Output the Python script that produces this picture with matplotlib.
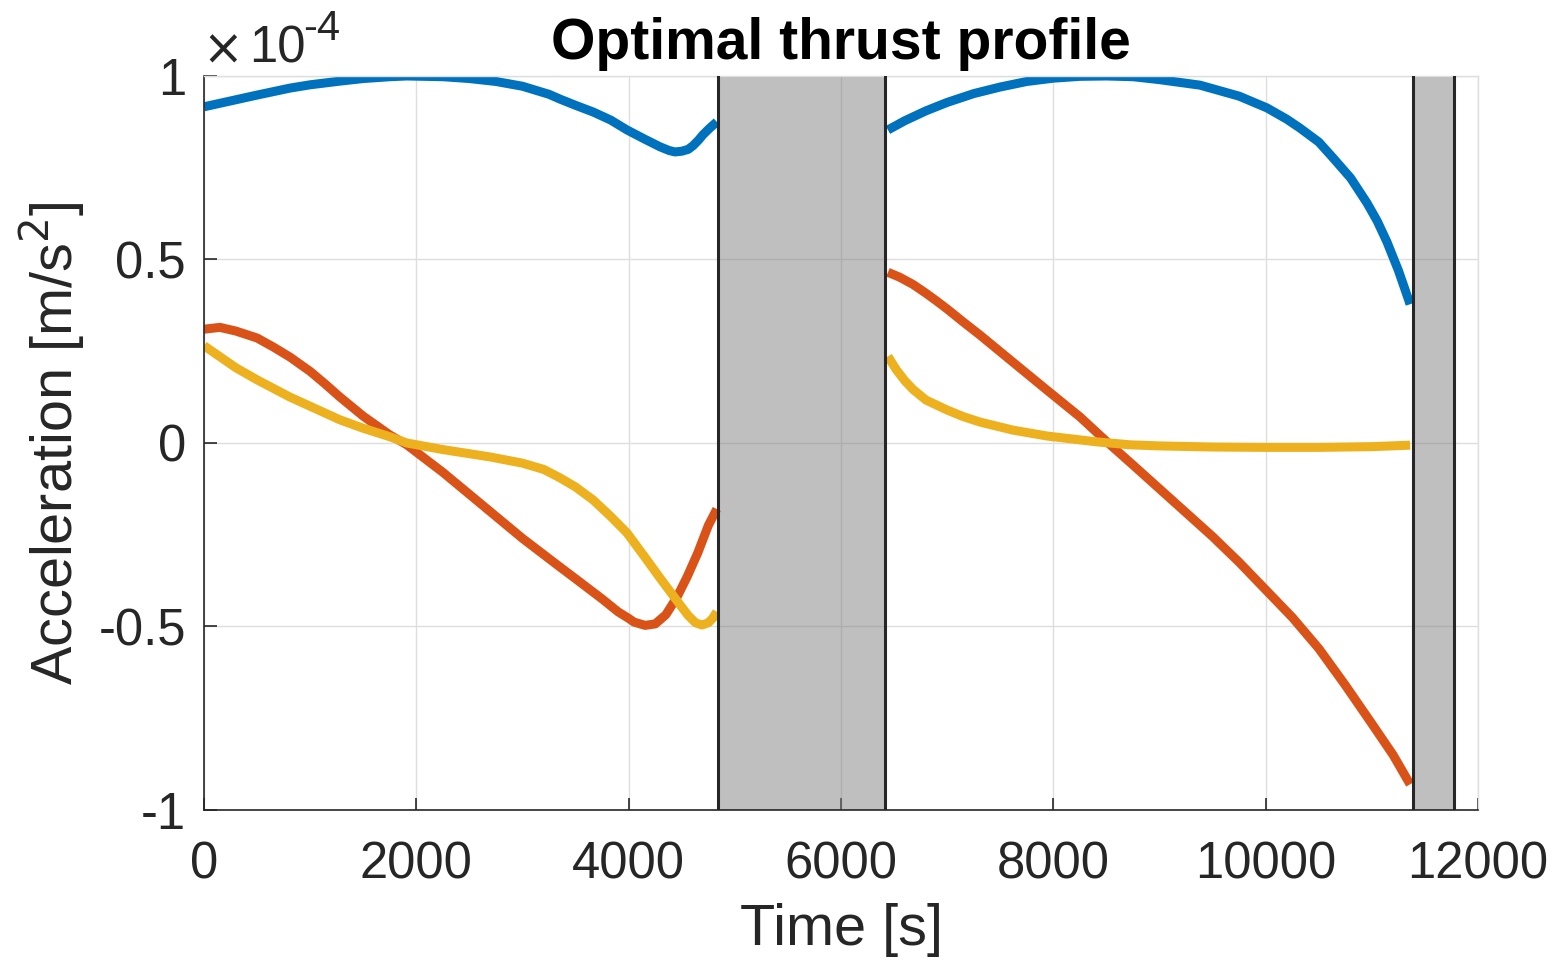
import matplotlib.pyplot as plt
import numpy as np

plt.rcParams['font.family'] = ['Liberation Sans', 'DejaVu Sans']

# acceleration components, in units of 1e-4 m/s^2
# first thrust arc
t_x1 = [0, 250, 500, 810, 1000, 1281, 1500, 1750, 1910, 2250, 2500, 2750, 3000, 3250, 3353,
        3500, 3664, 3830, 3984, 4150, 4295, 4380, 4436, 4500, 4560, 4606, 4660, 4700, 4760, 4830]
a_x1 = [0.916, 0.932, 0.948, 0.967, 0.976, 0.986, 0.993, 0.998, 1.0, 0.998, 0.993, 0.985, 0.972, 0.95, 0.937,
        0.92, 0.902, 0.88, 0.853, 0.828, 0.807, 0.797, 0.793, 0.795, 0.8, 0.81, 0.826, 0.84, 0.857, 0.875]

t_y1 = [0, 150, 300, 500, 650, 810, 1000, 1140, 1281, 1500, 1750, 1910, 2250, 2500, 2750, 3000, 3353, 3500,
        3750, 3900, 4000, 4050, 4154, 4250, 4350, 4455, 4550, 4650, 4750, 4830]
a_y1 = [0.31, 0.315, 0.305, 0.286, 0.262, 0.234, 0.195, 0.161, 0.125, 0.073, 0.022, -0.005, -0.08, -0.14, -0.2,
        -0.26, -0.338, -0.37, -0.425, -0.46, -0.478, -0.488, -0.497, -0.493, -0.468, -0.42, -0.365, -0.3,
        -0.225, -0.18]

t_z1 = [0, 150, 300, 500, 810, 1000, 1281, 1500, 1750, 1910, 2250, 2694, 3000, 3200, 3353, 3500,
        3664, 3830, 3984, 4150, 4295, 4455, 4560, 4630, 4690, 4750, 4790, 4830]
a_z1 = [0.265, 0.235, 0.205, 0.172, 0.125, 0.1, 0.063, 0.04, 0.017, 0.0, -0.018, -0.038, -0.055, -0.072, -0.095, -0.12,
        -0.155, -0.2, -0.245, -0.31, -0.368, -0.43, -0.47, -0.49, -0.496, -0.49, -0.478, -0.46]

# second thrust arc
t_x2 = [6442, 6600, 6800, 7000, 7250, 7500, 7750, 8000, 8250, 8500, 8750, 9000, 9381,
        9750, 10012, 10200, 10323, 10500, 10634, 10800, 10954, 11050, 11142, 11250, 11340, 11360]
a_x2 = [0.853, 0.878, 0.905, 0.928, 0.952, 0.97, 0.985, 0.994, 0.999, 1.0, 0.998, 0.99, 0.975,
        0.945, 0.913, 0.882, 0.858, 0.82, 0.777, 0.722, 0.654, 0.605, 0.548, 0.47, 0.395, 0.378]

t_y2 = [6442, 6550, 6678, 6800, 6900, 7000, 7150, 7309, 7620, 7940, 8251, 8505, 8750, 9000, 9250,
        9500, 9750, 10000, 10250, 10500, 10750, 11000, 11200, 11360]
a_y2 = [0.465, 0.452, 0.432, 0.408, 0.387, 0.365, 0.33, 0.294, 0.22, 0.144, 0.071, 0.003, -0.06, -0.125, -0.19,
        -0.255, -0.325, -0.4, -0.475, -0.56, -0.66, -0.765, -0.85, -0.93]

t_z2 = [6442, 6520, 6600, 6678, 6800, 6998, 7150, 7309, 7620, 7940, 8411, 8722, 9000,
        9500, 10000, 10500, 11000, 11360]
a_z2 = [0.236, 0.2, 0.17, 0.146, 0.117, 0.09, 0.072, 0.057, 0.035, 0.019, 0.003, -0.005, -0.008,
        -0.011, -0.012, -0.012, -0.01, -0.006]

# coast arcs (thruster off)
coast_start = [4841, 11387]
coast_end = [6414, 11774]

xticks = [0, 2000, 4000, 6000, 8000, 10000, 12000]
yticks = [-1, -0.5, 0, 0.5, 1]
ytick_l = ['-1', '-0.5', '0', '0.5', '1']

c_blue = '#0072BD'
c_orange = '#D95319'
c_yellow = '#EDB120'
c_ax = '#262626'

fig = plt.figure(figsize=(15.55, 9.63), dpi=100)
ax = fig.add_axes((0.1312, 0.1589, 0.8193, 0.7622))

for t0, t1 in zip(coast_start, coast_end):
    ax.axvspan(t0, t1, facecolor='0.5', alpha=0.5, edgecolor='none', zorder=1)
    ax.axvline(t0, color=c_ax, lw=2.2, zorder=3)
    ax.axvline(t1, color=c_ax, lw=2.2, zorder=3)

lw = 6.5
for tt, aa, cc in [(t_x1, a_x1, c_blue), (t_y1, a_y1, c_orange), (t_z1, a_z1, c_yellow),
                   (t_x2, a_x2, c_blue), (t_y2, a_y2, c_orange), (t_z2, a_z2, c_yellow)]:
    ax.plot(tt, aa, color=cc, lw=lw, zorder=2, solid_capstyle='butt', solid_joinstyle='round')

ax.set_xlim(0, 12000)
ax.set_ylim(-1, 1)
ax.set_xticks(xticks)
ax.set_xticklabels([str(v) for v in xticks])
ax.set_yticks(yticks)
ax.set_yticklabels(ytick_l)
ax.grid(True, color='#dedede', lw=1)
ax.set_axisbelow(True)

for s in ['top', 'right']:
    ax.spines[s].set_color('#dedede')
    ax.spines[s].set_linewidth(1)
for s in ['left', 'bottom']:
    ax.spines[s].set_color(c_ax)
    ax.spines[s].set_linewidth(1.2)

ax.tick_params(direction='in', length=9, width=1.2, colors=c_ax, labelsize=36.5)
ax.tick_params(axis='x', pad=22)
ax.tick_params(axis='y', pad=13)

ax.set_xlabel('Time [s]', fontsize=41.5, color=c_ax, labelpad=10)
ax.set_ylabel('Acceleration [m/s$^2$]', fontsize=41.5, color=c_ax, labelpad=8)
ax.set_title('Optimal thrust profile', fontsize=41, weight='bold', pad=12)

ax.annotate(r'$\times$', xy=(0, 1), xycoords='axes fraction', xytext=(-1.5, 9.5),
            textcoords='offset points', fontsize=35, color=c_ax, ha='left', va='baseline')
ax.annotate('10', xy=(0, 1), xycoords='axes fraction', xytext=(32.5, 9.5),
            textcoords='offset points', fontsize=36.5, color=c_ax, ha='left', va='baseline')
ax.annotate('-4', xy=(0, 1), xycoords='axes fraction', xytext=(71, 26),
            textcoords='offset points', fontsize=30, color=c_ax, ha='left', va='baseline')

plt.savefig('out.png', dpi=100)
plt.close(fig)
